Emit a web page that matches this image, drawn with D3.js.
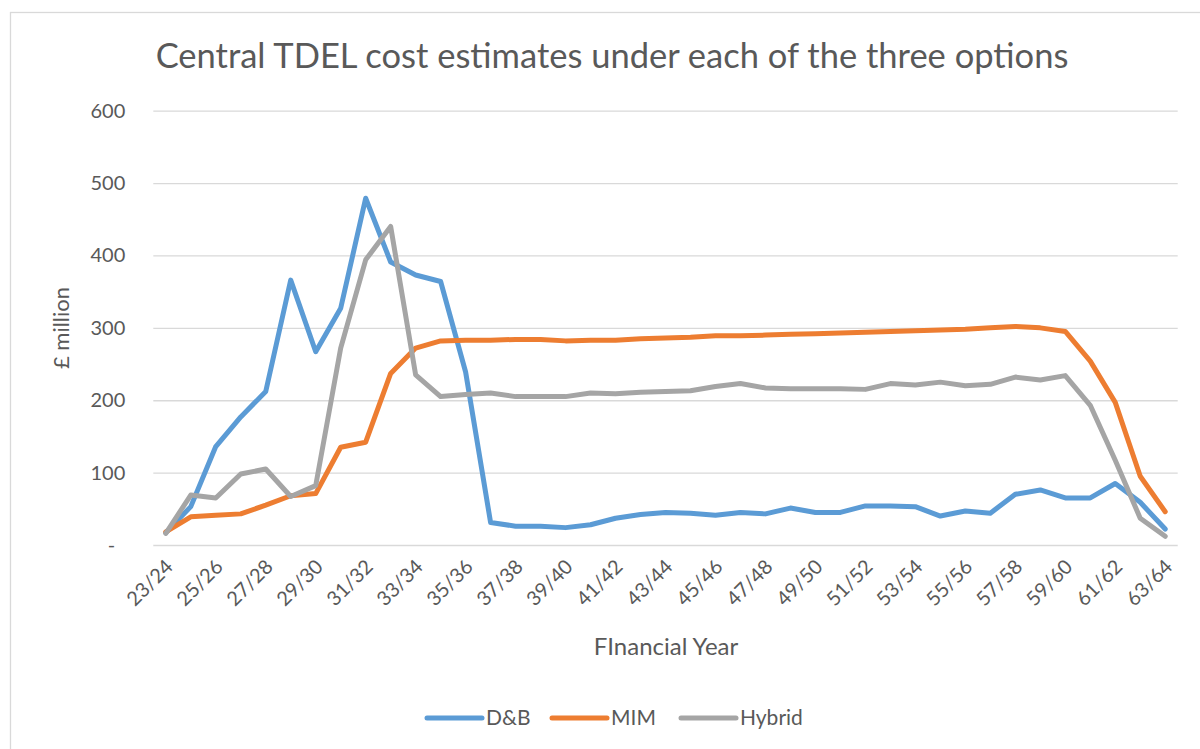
<!DOCTYPE html>
<html>
<head>
    <meta charset="utf-8">
    <title>Central TDEL cost estimates</title>
    <script src="https://d3js.org/d3.v7.min.js"></script>
    <style>
      body { margin: 0; background: #fff; }
      text { font-family: Lato, "Open Sans", sans-serif; fill: #595959; }
      .grid line { stroke: #d9d9d9; stroke-width: 1.3px; }
      .grid path { display: none; }
    </style>
</head>
<body>
<div id="chart"></div>
<script type="text/javascript">
    // financial years, one per point
    const years = ["23/24","24/25","25/26","26/27","27/28","28/29","29/30","30/31","31/32","32/33",
                   "33/34","34/35","35/36","36/37","37/38","38/39","39/40","40/41","41/42","42/43",
                   "43/44","44/45","45/46","46/47","47/48","48/49","49/50","50/51","51/52","52/53",
                   "53/54","54/55","55/56","56/57","57/58","58/59","59/60","60/61","61/62","62/63","63/64"];

    // £ million
    const dnb = [17,53,136,177,212,366,267,327,479,391,373,364,239,
                 31,26,26,24,28,37,42,45,44,41,45,43,51,45,
                 45,54,54,53,40,47,44,70,76,65,65,85,59,22];
    const mim = [18,39,41,43,55,68,71,135,142,237,272,282,283,
                 283,284,284,282,283,283,285,286,287,289,289,290,291,292,
                 293,294,295,296,297,298,300,302,300,295,254,197,95,46];
    const hybrid = [16,69,65,98,105,67,82,272,394,440,235,205,208,
                    210,205,205,205,210,209,211,212,213,219,223,217,216,216,
                    216,215,223,221,225,220,222,232,228,234,193,117,37,12];

    const seriesNames = ["D&B", "MIM", "Hybrid"];
    const seriesColors = ["#5b9bd5", "#ed7d31", "#a5a5a5"];
    const yTicks = [0, 100, 200, 300, 400, 500, 600];

    const W = 1200, H = 749;
    let margin = {top: 110.7, right: 22.3, bottom: 204, left: 153.3};
    let w = W - margin.left - margin.right;
    let h = H - margin.top - margin.bottom;

    let root = d3.select("#chart")
            .append("svg")
                .attr("width", W)
                .attr("height", H);

    // chart area border
    root.append("rect")
        .attr("x", 10.5).attr("y", 12.5)
        .attr("width", W).attr("height", H)
        .attr("fill", "none")
        .attr("stroke", "#d9d9d9")
        .attr("stroke-width", 1.3);

    root.append("text")
        .attr("x", 612)
        .attr("y", 68)
        .attr("text-anchor", "middle")
        .attr("font-size", "34.5px")
        .text("Central TDEL cost estimates under each of the three options");

    let svg = root.append("g")
        .attr("transform", "translate(" + margin.left + "," + margin.top + ")");

    let xScale = d3.scalePoint()
        .domain(years)
        .range([0, w])
        .padding(0.5);
    let yScale = d3.scaleLinear()
        .domain([0, 600])
        .range([h, 0]);

    // y gridlines + labels
    let yAxis = d3.axisLeft(yScale)
        .tickValues(yTicks)
        .tickSize(-w)
        .tickPadding(28)
        .tickFormat(d => d === 0 ? "-\u00a0\u00a0" : d);
    svg.append("g")
        .attr("class", "grid")
        .call(yAxis)
        .selectAll("text")
            .attr("font-size", "20px")
            .attr("fill", "#595959");

    // x labels, every second year
    let xAxis = d3.axisBottom(xScale)
        .tickValues(years.filter((d, i) => i % 2 === 0))
        .tickSize(0)
        .tickPadding(0);
    let gx = svg.append("g")
        .attr("transform", "translate(0," + h + ")")
        .call(xAxis);
    gx.select(".domain").remove();
    gx.selectAll("text")
        .attr("font-size", "20px")
        .attr("fill", "#595959")
        .attr("text-anchor", "end")
        .attr("dy", "0")
        .attr("transform", "translate(8,23) rotate(-45)");

    // lines
    let allSeries = [dnb, mim, hybrid];
    let line = d3.line()
        .x((d, i) => xScale(years[i]))
        .y(d => yScale(d));

    svg.selectAll(".series")
        .data(allSeries)
        .enter()
        .append("path")
            .attr("class", "series")
            .attr("d", line)
            .attr("fill", "none")
            .attr("stroke", (d, i) => seriesColors[i])
            .attr("stroke-width", 5)
            .attr("stroke-linejoin", "round")
            .attr("stroke-linecap", "round");

    // axis titles
    root.append("text")
        .attr("x", 666)
        .attr("y", 655)
        .attr("text-anchor", "middle")
        .attr("font-size", "24px")
        .text("FInancial Year");

    root.append("text")
        .attr("transform", "translate(69,328) rotate(-90)")
        .attr("text-anchor", "middle")
        .attr("font-size", "22px")
        .text("£ million");

    // legend
    let legendX = [427, 552, 681];
    let legend = root.selectAll(".legend")
        .data(seriesNames)
        .enter()
        .append("g")
            .attr("class", "legend")
            .attr("transform", (d, i) => "translate(" + legendX[i] + ",718)");
    legend.append("line")
        .attr("x1", 0).attr("x2", 55)
        .attr("stroke", (d, i) => seriesColors[i])
        .attr("stroke-width", 5)
        .attr("stroke-linecap", "round");
    legend.append("text")
        .attr("x", 59)
        .attr("dy", "0.35em")
        .attr("font-size", "21px")
        .text(d => d);
</script>
</body>
</html>
